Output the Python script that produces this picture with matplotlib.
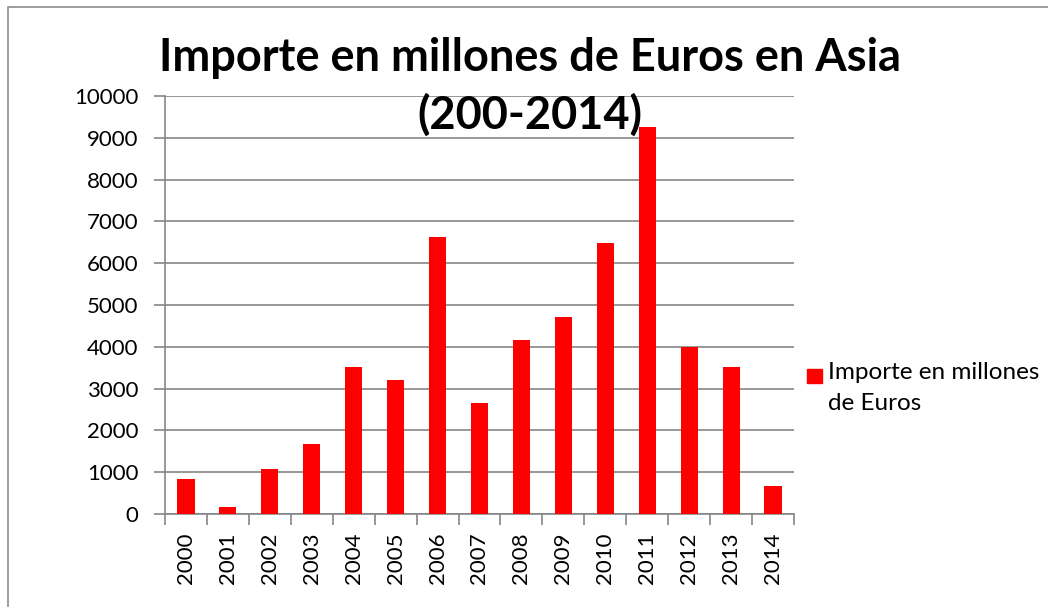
import matplotlib.pyplot as plt
from matplotlib.patches import Rectangle

# data
years = ['2000', '2001', '2002', '2003', '2004', '2005', '2006', '2007',
         '2008', '2009', '2010', '2011', '2012', '2013', '2014']
importe = [829, 160, 1085, 1675, 3517, 3198, 6627, 2648,
           4155, 4713, 6483, 9266, 3995, 3525, 670]
serie = 'Importe en millones\nde Euros'
titulo = 'Importe en millones de Euros en Asia\n(200-2014)'

plt.rcParams['font.family'] = ['Lato', 'DejaVu Sans']
grey = '#868686'
W, H = 1048, 607

fig = plt.figure(figsize=(W / 100, H / 100), dpi=100)
ax = fig.add_axes([165 / W, 1 - 514 / H, (794 - 165) / W, (514 - 96) / H])

x = list(range(len(years)))
ax.bar(x, importe, width=0.41, color='#ff0000', zorder=3)

ax.set_xlim(-0.5, len(years) - 0.5)
ax.set_ylim(0, 10000)
ax.set_yticks(range(0, 10001, 1000))
ax.yaxis.grid(True, color=grey, linewidth=1.2, zorder=0)

# ticks between categories, labels at the centres
ax.set_xticks(x)
ax.set_xticklabels(years, rotation=90, fontsize=16)
ax.set_xticks([i - 0.5 for i in range(len(years) + 1)], minor=True)
ax.tick_params(axis='x', which='major', length=0, pad=13)
ax.tick_params(axis='x', which='minor', length=8, width=1.2, color=grey)
ax.tick_params(axis='y', length=8, width=1.2, color=grey, labelsize=16, pad=11)

for s in ['top', 'right']:
    ax.spines[s].set_visible(False)
for s in ['left', 'bottom']:
    ax.spines[s].set_color(grey)
    ax.spines[s].set_linewidth(1.2)

# title
fig.text(530 / W, 1 - 37 / H, titulo, ha='center', va='top', fontsize=32.5,
         fontweight='bold', linespacing=1.4)

# legend drawn by hand so the square lines up with the first line
fig.patches.append(Rectangle((807 / W, 1 - 383 / H), 15 / W, 14 / H,
                             transform=fig.transFigure, color='#ff0000'))
fig.text(828 / W, 1 - 362 / H, serie, ha='left', va='top', fontsize=17.5,
         linespacing=1.6)

# chart area border (cropped on right and bottom)
fig.patches.append(Rectangle((8 / W, -0.1), 1.2, 1.1 - 7 / H,
                             transform=fig.transFigure, fill=False,
                             edgecolor='#8c8c8c', linewidth=1.2))

fig.savefig('out.png', dpi=100)
